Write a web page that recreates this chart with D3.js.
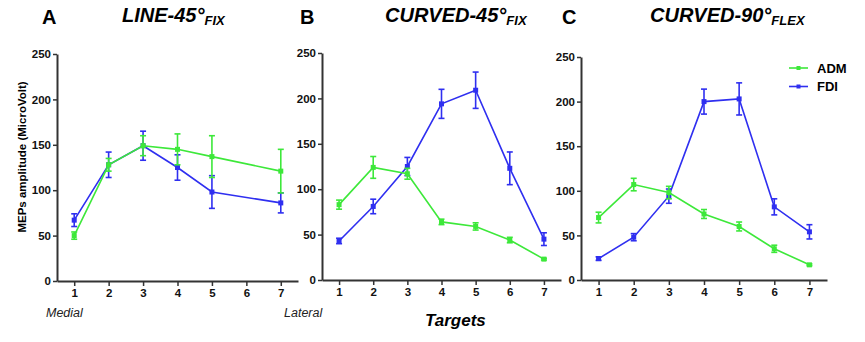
<!DOCTYPE html>
<html>
<head>
<meta charset="utf-8">
<script src="https://cdn.jsdelivr.net/npm/d3@7"></script>
<style>
  body { margin: 0; background: #fff; }
  text { font-family: "Liberation Sans", Arial, sans-serif; }
</style>
</head>
<body>
<div id="chart"></div>
<script>
// data (mean MEP amplitude, SEM), targets 1..7
var targets = [1, 2, 3, 4, 5, 6, 7];
var yTicks = [0, 50, 100, 150, 200, 250];
var series = ["ADM", "FDI"];
var panelLetters = ["A", "B", "C"];
var panelTitles = ["LINE-45°", "CURVED-45°", "CURVED-90°"];
var panelSubs = ["FIX", "FIX", "FLEX"];

// panel A has no target 6
var lineADM = [50, 128, 149, 145, 137, null, 121];
var lineADMsem = [4, 7, 11, 17, 23, null, 24];
var lineFDI = [67, 128, 149, 125, 98, null, 86];
var lineFDIsem = [7, 14, 16, 14, 18, null, 11];

var curved45ADM = [83, 124, 117, 64, 59, 44, 23];
var curved45ADMsem = [5, 12, 6, 3, 4, 3, 1];
var curved45FDI = [43, 81, 125, 194, 209, 123, 45];
var curved45FDIsem = [3, 8, 10, 16, 20, 18, 7];

var curved90ADM = [70, 107, 98, 74, 60, 35, 17];
var curved90ADMsem = [6, 7, 7, 5, 5, 4, 1];
var curved90FDI = [24, 48, 94, 200, 203, 82, 54];
var curved90FDIsem = [2, 4, 8, 14, 18, 9, 8];

var panelData = [
  {ADM: lineADM, ADMsem: lineADMsem, FDI: lineFDI, FDIsem: lineFDIsem},
  {ADM: curved45ADM, ADMsem: curved45ADMsem, FDI: curved45FDI, FDIsem: curved45FDIsem},
  {ADM: curved90ADM, ADMsem: curved90ADMsem, FDI: curved90FDI, FDIsem: curved90FDIsem}
];

var colors = {ADM: "#3de83a", FDI: "#2f2ff0"};

// panel frames (pixels)
var frames = [
  {x0: 57, x1: 298, top: 54, bottom: 281, letterX: 42, titleX: 122},
  {x0: 322, x1: 561, top: 53, bottom: 280, letterX: 300, titleX: 385},
  {x0: 581, x1: 827, top: 57, bottom: 280, letterX: 562, titleX: 650}
];

var svg = d3.select("#chart").append("svg")
  .attr("width", 865)
  .attr("height", 342);

frames.forEach(function(f, i) {
  var x = d3.scaleLinear().domain([0.5, 7.5]).range([f.x0, f.x1]);
  var y = d3.scaleLinear().domain([0, 250]).range([f.bottom, f.top]);
  var g = svg.append("g");

  // axes
  var xAxis = g.append("g")
    .attr("transform", "translate(0," + f.bottom + ")")
    .call(d3.axisBottom(x).tickValues(targets).tickFormat(d3.format("d"))
      .tickSize(5).tickPadding(3).tickSizeOuter(0));
  var yAxis = g.append("g")
    .attr("transform", "translate(" + f.x0 + ",0)")
    .call(d3.axisLeft(y).tickValues(yTicks).tickFormat(d3.format("d"))
      .tickSize(4).tickPadding(2).tickSizeOuter(0));
  [xAxis, yAxis].forEach(function(a) {
    a.select(".domain").attr("stroke", "#333").attr("stroke-width", 2);
    a.selectAll(".tick line").attr("stroke", "#333").attr("stroke-width", 1.5);
    a.selectAll(".tick text")
      .attr("font-family", "Liberation Sans, Arial, sans-serif")
      .attr("font-size", 11.5).attr("font-weight", "bold").attr("fill", "#111");
  });

  var d = panelData[i];
  ["FDI", "ADM"].forEach(function(s) {
    var pts = targets.map(function(t, k) {
      return {t: t, v: d[s][k], e: d[s + "sem"][k]};
    }).filter(function(p) { return p.v != null; });
    var c = colors[s];

    g.append("path")
      .datum(pts)
      .attr("fill", "none")
      .attr("stroke", c)
      .attr("stroke-width", 1.6)
      .attr("d", d3.line().x(function(p) { return x(p.t); }).y(function(p) { return y(p.v); }));

    var eb = g.append("g").attr("stroke", c).attr("stroke-width", 1.6);
    eb.selectAll(".v").data(pts).join("line")
      .attr("x1", function(p) { return x(p.t); })
      .attr("x2", function(p) { return x(p.t); })
      .attr("y1", function(p) { return y(p.v - p.e); })
      .attr("y2", function(p) { return y(p.v + p.e); });
    eb.selectAll(".top").data(pts).join("line")
      .attr("x1", function(p) { return x(p.t) - 3; })
      .attr("x2", function(p) { return x(p.t) + 3; })
      .attr("y1", function(p) { return y(p.v + p.e); })
      .attr("y2", function(p) { return y(p.v + p.e); });
    eb.selectAll(".bot").data(pts).join("line")
      .attr("x1", function(p) { return x(p.t) - 3; })
      .attr("x2", function(p) { return x(p.t) + 3; })
      .attr("y1", function(p) { return y(p.v - p.e); })
      .attr("y2", function(p) { return y(p.v - p.e); });

    g.selectAll(".m" + s).data(pts).join("rect")
      .attr("x", function(p) { return x(p.t) - 2.5; })
      .attr("y", function(p) { return y(p.v) - 2.5; })
      .attr("width", 5).attr("height", 5)
      .attr("fill", c);
  });

  // letter + title
  svg.append("text")
    .attr("x", f.letterX).attr("y", 24)
    .attr("font-size", 20).attr("font-weight", "bold")
    .text(panelLetters[i]);
  var t = svg.append("text")
    .attr("x", f.titleX).attr("y", 22)
    .attr("font-size", 20).attr("font-weight", "bold").attr("font-style", "italic");
  t.append("tspan").text(panelTitles[i]);
  t.append("tspan").attr("font-size", 13).attr("dy", 3).text(panelSubs[i]);
});

// y label
svg.append("text")
  .attr("transform", "translate(26,157) rotate(-90)")
  .attr("text-anchor", "middle")
  .attr("font-size", 11.5).attr("font-weight", "bold")
  .text("MEPs amplitude (MicroVolt)");

// Medial / Lateral / Targets
svg.append("text").attr("x", 46).attr("y", 317)
  .attr("font-size", 12.5).attr("font-style", "italic").attr("fill", "#222").text("Medial");
svg.append("text").attr("x", 284).attr("y", 317)
  .attr("font-size", 12.5).attr("font-style", "italic").attr("fill", "#222").text("Lateral");
svg.append("text").attr("x", 425).attr("y", 326)
  .attr("font-size", 17).attr("font-weight", "bold").attr("font-style", "italic").text("Targets");

// legend
var leg = svg.append("g").selectAll("g").data(series).join("g")
  .attr("transform", function(s, k) { return "translate(789," + (68 + k * 18.5) + ")"; });
leg.append("line").attr("x1", 0).attr("x2", 19)
  .attr("stroke", function(s) { return colors[s]; }).attr("stroke-width", 1.6);
leg.append("rect").attr("x", 7.5).attr("y", -2).attr("width", 4).attr("height", 4)
  .attr("fill", function(s) { return colors[s]; });
leg.append("text").attr("x", 28).attr("dy", "0.35em")
  .attr("font-size", 13).attr("font-weight", "bold").text(function(s) { return s; });
</script>
</body>
</html>
